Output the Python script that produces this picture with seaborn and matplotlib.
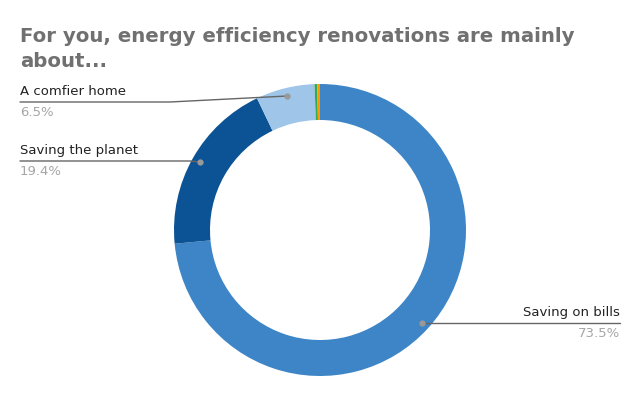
import numpy as np
import matplotlib
matplotlib.use("Agg")
import matplotlib.pyplot as plt
import seaborn as sns

categories = ["Saving on bills", "Saving the planet", "A comfier home", "Other A", "Other B"]
values = [73.5, 19.4, 6.5, 0.3, 0.3]
pct_labels = ["73.5%", "19.4%", "6.5%", "", ""]
colors = ["#3d85c6", "#0b5394", "#9fc5e8", "#34a853", "#ff9900"]
title = "For you, energy efficiency renovations are mainly\nabout..."

sns.set_style("white")
plt.rcParams["font.family"] = ["DejaVu Sans"]

fig = plt.figure(figsize=(6.4, 3.96), dpi=100)
ax = fig.add_axes([0, 0, 1, 1])

cx, cy, R = 320, 166, 146
wedges, _ = ax.pie(values, colors=colors, startangle=90, counterclock=False,
                   center=(cx, cy), radius=R, frame=True,
                   wedgeprops=dict(width=36, linewidth=0))
ax.set_xlim(0, 640)
ax.set_ylim(0, 396)
ax.set_aspect("equal")
ax.axis("off")

fig.text(20 / 640, 1 - 67 / 396, title, fontsize=14.2, fontweight="bold",
         color="#707070", va="baseline", linespacing=1.4)

# label layout: (index, text x, line y (pixels from top), side, knee x)
layout = [(2, 20, 102, "left", 170), (1, 20, 161, "left", 190), (0, 620, 323, "right", 430)]
for idx, tx, ly, side, knee in layout:
    w = wedges[idx]
    mid = np.deg2rad((w.theta1 + w.theta2) / 2)
    px = cx + 138 * np.cos(mid)
    py = cy + 138 * np.sin(mid)
    lyb = 396 - ly
    if side == "left":
        ax.plot([tx, knee, px], [lyb, lyb, py], color="#666666", lw=1)
        ha = "left"
    else:
        ax.plot([tx, px], [lyb, lyb], color="#666666", lw=1)
        ha = "right"
    ax.plot([px], [py], "o", color="#999999", ms=3.5)
    ax.text(tx, lyb + 4, categories[idx], ha=ha, va="bottom", fontsize=9.5, color="#222222")
    ax.text(tx, lyb - 4, pct_labels[idx], ha=ha, va="top", fontsize=9.5, color="#a6a6a6")

fig.savefig("out.png", dpi=100, facecolor="white")
